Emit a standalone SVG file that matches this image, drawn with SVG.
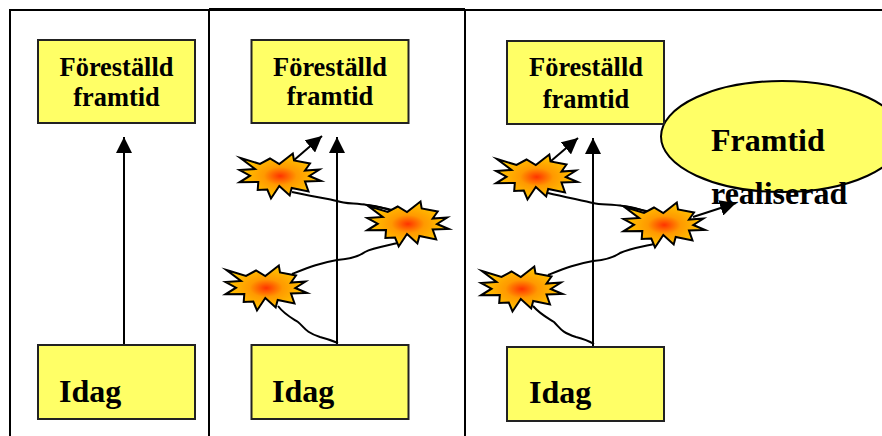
<svg xmlns="http://www.w3.org/2000/svg" width="882" height="436" viewBox="0 0 882 436">
<style>
.box{fill:#ffff66;stroke:#222;stroke-width:2}
.frame{fill:none;stroke:#000;stroke-width:2}
.line{fill:none;stroke:#000;stroke-width:2}
.t{font-family:"Liberation Serif","Times New Roman",serif;font-weight:bold;fill:#000}
.s{font-size:26.4px;text-anchor:middle}
.b{font-size:32px}
.c{font-size:32px}
</style>
<defs>
<radialGradient id="burst"><stop offset="0" stop-color="#ff3300"/><stop offset="0.4" stop-color="#ff9900"/><stop offset="1" stop-color="#ffc800"/></radialGradient>
<polygon id="star" points="-39.5,-18 -20,-12 -10,-17.5 -0.7,-12 12.8,-22.5 14,-15.5 30,-12.5 25,-5.5 39.5,-6.5 29.3,0 41,5 25,5.5 28.5,15.5 11.7,12 9.7,19.5 -0.7,10 -9,22.5 -12.7,13.5 -22.3,14 -21.7,6 -40.5,6.3 -30,-0.3 -40.5,-6 -25,-7" fill="url(#burst)" stroke="#000" stroke-width="2" stroke-miterlimit="6"/>
<marker id="head" markerUnits="userSpaceOnUse" markerWidth="16" markerHeight="16" refX="16" refY="8" orient="auto"><path d="M0,0L16,8L0,16Z" fill="#000"/></marker>
</defs>
<g id="frames">
<path class="frame" d="M10,436V10H209M209,436V10M465,436V10M465,10H882"/>
<path d="M209,9.5H465" stroke="#000" stroke-width="3" fill="none"/>
</g>
<g id="reality-shape"><ellipse cx="782" cy="136.5" rx="121" ry="55.5" fill="#ffff66" stroke="#000" stroke-width="2"/></g>
<g id="connectors">
<path class="line" d="M124,345V137" marker-end="url(#head)"/>
<path class="line" d="M337,345V137" marker-end="url(#head)"/>
<path class="line" d="M593,346V138" marker-end="url(#head)"/>
<path class="line" d="M293,161L322,136" marker-end="url(#head)"/>
<path class="line" d="M551,161L578,138" marker-end="url(#head)"/>
<path class="line" d="M693,217L736,203" marker-end="url(#head)"/>
<g id="wiggles-2">
<path class="line" d="M292,192C310,196 330,199 337,201C345,204 355,203 367,205C378,206 388,209 395,212"/>
<path class="line" d="M367,205C378,207 390,209 395,211"/>
<path class="line" d="M398,243C385,246 372,248 365,252C358,257 350,259 337,260C320,263 310,267 292,274"/>
<path class="line" d="M278,306C284,314 290,317 298,322C305,328 305,332 320,337C328,339 333,341 338,343"/>
</g>
<g id="wiggles-3">
<path class="line" d="M548,193C565,197 585,201 593,203C601,205 611,204 623,206C634,207 645,211 651,213"/>
<path class="line" d="M623,206C634,208 646,211 651,212"/>
<path class="line" d="M654,244C640,247 628,249 620,253C613,258 605,260 593,261C576,264 566,268 548,275"/>
<path class="line" d="M533,306C540,314 546,317 554,322C561,329 561,332 576,337C584,339 589,341 594,344"/>
</g>
</g>
<g id="star-2a"><use href="#star" x="280" y="176"/></g>
<g id="star-2b"><use href="#star" x="407.7" y="224"/></g>
<g id="star-2c"><use href="#star" x="266" y="288"/></g>
<g id="star-3a"><use href="#star" x="536.5" y="177"/></g>
<g id="star-3b"><use href="#star" x="664" y="225"/></g>
<g id="star-3c"><use href="#star" x="521.5" y="289"/></g>
<g id="future-1"><rect class="box" x="38" y="40" width="157" height="83"/><text class="t s" x="116.5" y="76">Föreställd</text><text class="t s" x="116.5" y="106">framtid</text></g>
<g id="future-2"><rect class="box" x="251.5" y="40" width="157" height="83"/><text class="t s" x="330" y="76">Föreställd</text><text class="t s" x="330" y="105">framtid</text></g>
<g id="future-3"><rect class="box" x="507" y="41" width="157" height="83"/><text class="t s" x="586" y="76">Föreställd</text><text class="t s" x="586" y="108">framtid</text></g>
<g id="today-1"><rect class="box" x="38" y="345" width="157" height="74"/><text class="t b" x="59" y="402">Idag</text></g>
<g id="today-2"><rect class="box" x="251.5" y="345" width="157" height="74"/><text class="t b" x="272" y="402">Idag</text></g>
<g id="today-3"><rect class="box" x="507" y="347" width="157" height="74"/><text class="t b" x="529" y="403">Idag</text></g>
<g id="reality"><text class="t c" x="711" y="151">Framtid</text><text class="t c" x="711" y="204">realiserad</text></g>
</svg>
